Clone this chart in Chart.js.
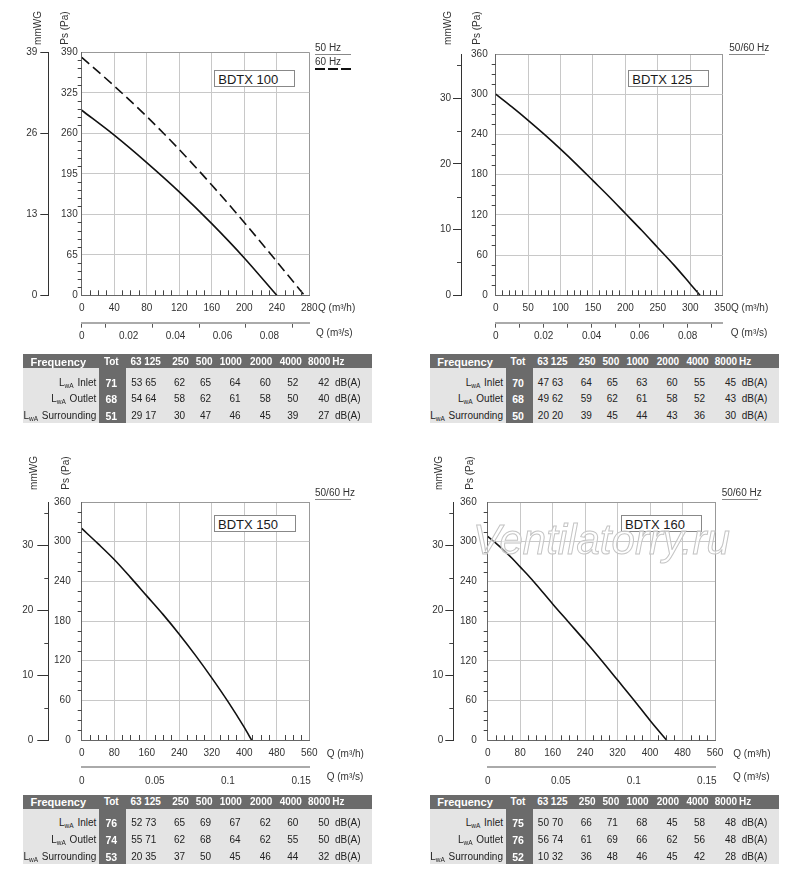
<!DOCTYPE html>
<html lang="en">
<head>
<meta charset="UTF-8">
<title>BDTX fan curves</title>
<script src="https://cdn.jsdelivr.net/npm/chart.js"></script>
<style>
  html, body { margin: 0; padding: 0; background: #fff; }
  body {
    width: 800px; height: 887px; position: relative; overflow: hidden;
    font-family: Arial, "Liberation Sans", sans-serif; color: #333;
  }
  canvas { position: absolute; }
  .t { position: absolute; white-space: nowrap; line-height: 1; font-size: 10px; color: #333; }
  .box {
    position: absolute; border: 1px solid #888; background: #fff; box-sizing: border-box;
    font-size: 13px; line-height: 1; color: #1a1a1a; padding: 2px 0 0 3px;
  }
  .line { position: absolute; }
  .rect { position: absolute; }
  .th { color: #fff; font-weight: bold; font-size: 10px; }
  .th.big { font-size: 11px; }
  .tv { color: #fff; font-weight: bold; font-size: 10.5px; }
  .tc { color: #222; font-size: 10px; }
  .rl { color: #222; font-size: 10px; }
  .rl span { font-size: 6.5px; position: relative; top: 2px; margin-right: 1px; }
  .wm {
    font-size: 42px; font-style: italic; color: rgba(255,255,255,0.55);
    -webkit-text-stroke: 1px #c4c4c4; z-index: 5;
  }
</style>
</head>
<body>
<script>
  // --- fan curves: Q in m3/h, Ps in Pa ---
  const q100_50 = [0, 40, 80, 120, 160, 200, 240];
  const ps100_50 = [297, 257, 213, 166, 115, 60, 0];
  const q100_60 = [0, 40, 80, 120, 160, 200, 240, 274];
  const ps100_60 = [382, 336, 287, 234, 177, 117, 54, 0];
  const q125 = [0, 25, 50, 75, 100, 125, 150, 175, 200, 225, 250, 275, 300, 315];
  const ps125 = [300, 281, 261, 240, 218, 195, 171, 147, 122, 97, 71, 45, 17, 0];
  const q150 = [0, 40, 80, 120, 160, 200, 240, 280, 320, 360, 400, 418];
  const ps150 = [320, 297, 273, 246, 218, 190, 160, 128, 94, 58, 19, 0];
  const q160 = [0, 20, 40, 60, 80, 100, 120, 160, 200, 240, 280, 320, 360, 400, 441];
  const ps160 = [308, 298, 287, 275, 262, 249, 235, 206, 178, 150, 121, 91, 61, 30, 0];

  // --- sound data, dB(A) ---
  const bands = ['63', '125', '250', '500', '1000', '2000', '4000', '8000'];
  const rowNames = ['Inlet', 'Outlet', 'Surrounding'];
  const tot100 = [71, 68, 51];
  const inlet100 = [53, 65, 62, 65, 64, 60, 52, 42];
  const outlet100 = [54, 64, 58, 62, 61, 58, 50, 40];
  const surr100 = [29, 17, 30, 47, 46, 45, 39, 27];
  const tot125 = [70, 68, 50];
  const inlet125 = [47, 63, 64, 65, 63, 60, 55, 45];
  const outlet125 = [49, 62, 59, 62, 61, 58, 52, 43];
  const surr125 = [20, 20, 39, 45, 44, 43, 36, 30];
  const tot150 = [76, 74, 53];
  const inlet150 = [52, 73, 65, 69, 67, 62, 60, 50];
  const outlet150 = [55, 71, 62, 68, 64, 62, 55, 50];
  const surr150 = [20, 35, 37, 50, 45, 46, 44, 32];
  const tot160 = [75, 76, 52];
  const inlet160 = [50, 70, 66, 71, 68, 45, 58, 48];
  const outlet160 = [56, 74, 61, 69, 66, 62, 56, 48];
  const surr160 = [10, 32, 36, 48, 46, 45, 42, 28];

  // axis setup per chart
  const charts = [
    { name: 'BDTX 100', curves: [{ q: q100_50, ps: ps100_50, dash: [] }, { q: q100_60, ps: ps100_60, dash: [10, 5] }],
      xMax: 280, xStep: 40, xMinor: 10, yMax: 390, yStep: 65, yMinor: 13, mmMax: 39, mmStep: 13, mmMinor: 0,
      secMax: 0.097, secStep: 0.01, secTicks: 'odd' },
    { name: 'BDTX 125', curves: [{ q: q125, ps: ps125, dash: [] }],
      xMax: 350, xStep: 50, xMinor: 10, yMax: 360, yStep: 60, yMinor: 15, mmMax: 36.7, mmStep: 10, mmMinor: 5,
      secMax: 0.0946, secStep: 0.01, secTicks: 'all' },
    { name: 'BDTX 150', curves: [{ q: q150, ps: ps150, dash: [] }],
      xMax: 560, xStep: 80, xMinor: 20, yMax: 360, yStep: 60, yMinor: 15, mmMax: 36.7, mmStep: 10, mmMinor: 5,
      secMax: 0.1556, secStep: 0.05, secTicks: 'none' },
    { name: 'BDTX 160', curves: [{ q: q160, ps: ps160, dash: [] }],
      xMax: 560, xStep: 80, xMinor: 20, yMax: 360, yStep: 60, yMinor: 15, mmMax: 36.7, mmStep: 10, mmMinor: 5,
      secMax: 0.1556, secStep: 0.05, secTicks: 'none' }
  ];

  // where each plot sits on the page
  const frames = [
    { cx: 0,   cy: 40,  cw: 400, ch: 305, l: 81.7,  t: 52.3,  r: 309.3, b: 295.3, mm: 48.3,  sec: 322.7, paGap: 4,  mmTick: 8,  mmPad: 3 },
    { cx: 400, cy: 40,  cw: 400, ch: 305, l: 495.7, t: 52.3,  r: 722.7, b: 295.3, mm: 461,   sec: 322.7, paGap: 8,  mmTick: 8,  mmPad: 2 },
    { cx: 0,   cy: 485, cw: 400, ch: 305, l: 81.7,  t: 497.3, r: 309.3, b: 740,   mm: 48.3,  sec: 767.3, paGap: 11, mmTick: 11, mmPad: 4 },
    { cx: 400, cy: 485, cw: 400, ch: 305, l: 487.7, t: 497.3, r: 715,   b: 740.3, mm: 453.3, sec: 767.3, paGap: 11, mmTick: 8,  mmPad: 2 }
  ];

  Chart.defaults.font.family = 'Arial, "Liberation Sans", sans-serif';
  Chart.defaults.font.size = 10;
  Chart.defaults.color = '#333';

  // small tick marks between the labelled ones
  const minorTicks = {
    id: 'minorTicks',
    afterDraw(chart, args, o) {
      const { ctx, chartArea: a } = chart;
      const sx = chart.scales.x, sy = chart.scales.y, sm = chart.scales.mm;
      ctx.save();
      ctx.strokeStyle = '#444';
      ctx.lineWidth = 1;
      ctx.beginPath();
      for (let v = o.xMinor; v < sx.max; v += o.xMinor) {
        if (v % o.xStep === 0) continue;
        const p = Math.round(sx.getPixelForValue(v)) + 0.5;
        ctx.moveTo(p, a.bottom); ctx.lineTo(p, a.bottom - 5);
      }
      for (let v = o.yMinor; v < sy.max; v += o.yMinor) {
        if (v % o.yStep === 0) continue;
        const p = Math.round(sy.getPixelForValue(v)) + 0.5;
        ctx.moveTo(a.left, p); ctx.lineTo(a.left - 4, p);
      }
      if (o.mmMinor) {
        for (let v = o.mmMinor; v < sm.max; v += o.mmMinor) {
          if (v % o.mmStep === 0) continue;
          const p = Math.round(sm.getPixelForValue(v)) + 0.5;
          ctx.moveTo(sm.right, p); ctx.lineTo(sm.right - 4, p);
        }
      }
      ctx.stroke();
      ctx.restore();
    }
  };

  function secLabel(c, v) {
    const h = Math.round(v * 100);
    if (c.secTicks === 'none') return String(+v.toFixed(2));
    return h % 2 === 0 ? String(+v.toFixed(2)) : '';
  }
  function secTickColor(c, v) {
    if (c.secTicks === 'all') return '#555';
    if (c.secTicks === 'odd') return (v === 0 || Math.round(v * 100) % 2 === 1) ? '#555' : 'rgba(0,0,0,0)';
    return 'rgba(0,0,0,0)';
  }

  function makeChart(c, f) {
    const cv = document.createElement('canvas');
    cv.width = f.cw; cv.height = f.ch;
    cv.style.left = f.cx + 'px'; cv.style.top = f.cy + 'px';
    document.body.appendChild(cv);

    new Chart(cv, {
      type: 'line',
      data: {
        datasets: c.curves.map(k => ({
          data: k.q.map((q, i) => ({ x: q, y: k.ps[i] })),
          borderColor: '#111',
          borderWidth: 1.6,
          borderDash: k.dash,
          pointRadius: 0,
          cubicInterpolationMode: 'monotone',
          fill: false
        }))
      },
      options: {
        responsive: false,
        animation: false,
        layout: { padding: { left: 0, top: f.t - f.cy, right: f.cx + f.cw - f.r, bottom: f.cy + f.ch - f.sec - 20 } },
        plugins: {
          legend: { display: false },
          tooltip: { enabled: false },
          minorTicks: { xMinor: c.xMinor, xStep: c.xStep, yMinor: c.yMinor, yStep: c.yStep, mmMinor: c.mmMinor, mmStep: c.mmStep }
        },
        scales: {
          x: {
            type: 'linear', axis: 'x', position: 'bottom', weight: 0, min: 0, max: c.xMax,
            afterFit: s => { s.height = f.sec - f.b; },
            border: { color: '#666' },
            grid: { color: ctx => (ctx.tick && ctx.tick.value === c.xMax) ? '#999' : '#c8c8c8', drawTicks: false },
            ticks: { stepSize: c.xStep, maxTicksLimit: 100, autoSkip: false, maxRotation: 0, padding: 7 }
          },
          y: {
            type: 'linear', axis: 'y', position: 'left', weight: 0, min: 0, max: c.yMax,
            afterFit: s => { s.width = f.l - f.mm; },
            border: { color: '#666' },
            grid: { color: ctx => (ctx.tick && ctx.tick.value === c.yMax) ? '#999' : '#c8c8c8', drawTicks: false },
            ticks: { stepSize: c.yStep, maxTicksLimit: 100, autoSkip: false, padding: f.paGap }
          },
          mm: {
            type: 'linear', axis: 'y', position: 'left', weight: 1, min: 0, max: c.mmMax,
            afterFit: s => { s.width = f.mm - f.cx; },
            border: { color: '#333' },
            grid: { drawOnChartArea: false, tickLength: f.mmTick, color: '#333', tickColor: '#333' },
            ticks: { stepSize: c.mmStep, maxTicksLimit: 100, includeBounds: false, autoSkip: false, padding: f.mmPad }
          },
          q2: {
            type: 'linear', axis: 'x', position: 'bottom', weight: 1, min: 0, max: c.secMax,
            afterFit: s => { s.height = 20; },
            border: { color: '#aaa', width: 2 },
            grid: { drawOnChartArea: false, tickLength: 5, tickColor: ctx => secTickColor(c, ctx.tick ? ctx.tick.value : -1) },
            ticks: { stepSize: c.secStep, maxTicksLimit: 100, includeBounds: false, autoSkip: false, maxRotation: 0, padding: 3,
                     callback: v => secLabel(c, v) }
          }
        }
      },
      plugins: [minorTicks]
    });
  }

  // text helper: anchor c = centre, l = left edge, r = right edge; y is the vertical centre
  function put(x, y, html, cls, anchor, extra) {
    const d = document.createElement('div');
    d.className = 't' + (cls ? ' ' + cls : '');
    d.innerHTML = html;
    d.style.left = x + 'px';
    d.style.top = y + 'px';
    const tx = anchor === 'c' ? '-50%' : anchor === 'r' ? '-100%' : '0';
    d.style.transform = 'translate(' + tx + ',-50%)' + (extra || '');
    document.body.appendChild(d);
    return d;
  }
  function rect(x, y, w, h, bg, cls) {
    const d = document.createElement('div');
    d.className = cls || 'rect';
    d.style.cssText += 'left:' + x + 'px;top:' + y + 'px;width:' + w + 'px;height:' + h + 'px;background:' + bg + ';';
    document.body.appendChild(d);
    return d;
  }

  charts.forEach((c, i) => makeChart(c, frames[i]));

  // axis titles, model boxes, frequency notes
  const labels = [
    { mmX: 38.3, paX: 65,  tY: 28,  qhX: 318,   qhY: 308, qsX: 316,   qsY: 333,   box: [214.3, 70, 81, 17.3] },
    { mmX: 448.3, paX: 477.3, tY: 28, qhX: 731, qhY: 308, qsX: 730.7, qsY: 333.3, box: [628.3, 70, 81, 17.3] },
    { mmX: 34,  paX: 66,  tY: 472.5, qhX: 326.7, qhY: 754, qsX: 326.7, qsY: 776.7, box: [214, 515, 81.7, 17.3] },
    { mmX: 439.3, paX: 470, tY: 472.5, qhX: 733.3, qhY: 754, qsX: 733, qsY: 776.7, box: [621, 515, 81, 17.3] }
  ];
  labels.forEach((p, i) => {
    put(p.mmX, p.tY, 'mmWG', '', 'c', ' rotate(-90deg)');
    put(p.paX, p.tY, 'Ps (Pa)', '', 'c', ' rotate(-90deg)');
    put(p.qhX, p.qhY, 'Q (m\u00b3/h)', '', 'l');
    put(p.qsX, p.qsY, 'Q (m\u00b3/s)', '', 'l');
    const b = rect(p.box[0], p.box[1], p.box[2], p.box[3], '#fff', 'box');
    b.textContent = charts[i].name;
  });

  // legend of the first chart
  put(315, 48, '50 Hz', '', 'l');
  rect(315, 54, 36, 1, '#888', 'line');
  put(315, 62, '60 Hz', '', 'l');
  rect(315, 67.5, 36, 2, 'repeating-linear-gradient(to right, #111 0 10px, transparent 10px 13px)', 'line');
  // 50/60 Hz notes
  [[729.3, 47.7, 54], [315, 492.7, 499.3], [721.7, 492.7, 499.3]].forEach(n => {
    put(n[0], n[1], '50/60 Hz', '', 'l');
    rect(n[0], n[2], 36, 1, '#888', 'line');
  });

  put(473, 540, 'Ventilatorry.ru', 'wm', 'l');

  // sound tables
  const headX = [36.7, 53.2, 81.2, 104.9, 131.5, 161.9, 191.5, 219.9];
  const valX = [37.4, 51.5, 80.2, 106.2, 135.7, 166, 193.5, 224.5];
  function soundTable(T, top, tot, rows) {
    rect(T - 76, top, 349, 14, '#6b6b6b');
    rect(T - 76, top + 14, 349, 55, '#e4e4e4');
    rect(T, top + 14, 26.7, 55, '#6b6b6b');
    const hy = top + 7.3;
    put(T - 41, hy, 'Frequency', 'th big', 'c');
    put(T + 12, hy, 'Tot', 'th', 'c');
    bands.forEach((b, i) => put(T + headX[i], hy, b, 'th', 'c'));
    put(T + 233, hy, 'Hz', 'th', 'l');
    rowNames.forEach((n, r) => {
      const y = top + 28.4 + r * 16.7;
      put(T - 3, y, 'L<span>wA</span> ' + n, 'rl', 'r');
      put(T + 12, y, String(tot[r]), 'tv', 'c');
      rows[r].forEach((v, i) => put(T + valX[i], y, String(v), 'tc', 'c'));
      put(T + 235.7, y, 'dB(A)', 'tc', 'l');
    });
  }
  soundTable(99.3, 354.3, tot100, [inlet100, outlet100, surr100]);
  soundTable(506, 354.3, tot125, [inlet125, outlet125, surr125]);
  soundTable(99.3, 794.8, tot150, [inlet150, outlet150, surr150]);
  soundTable(506, 794.8, tot160, [inlet160, outlet160, surr160]);
</script>
</body>
</html>
